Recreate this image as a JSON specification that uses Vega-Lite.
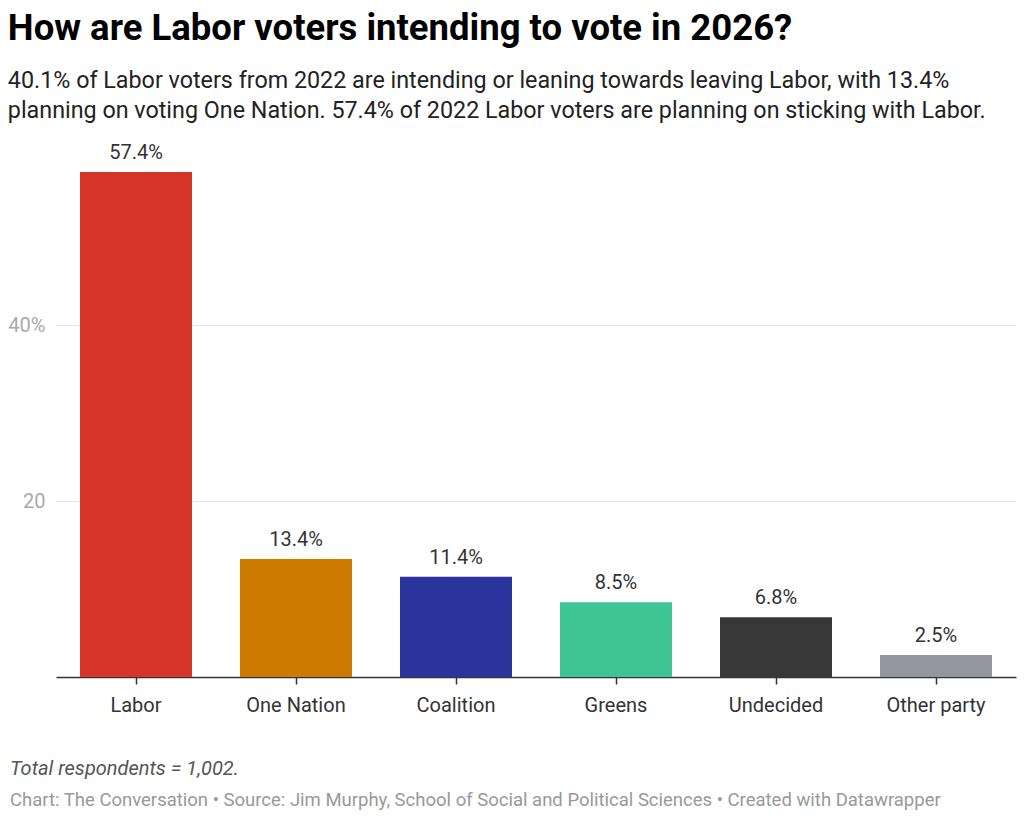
{
  "$schema": "https://vega.github.io/schema/vega-lite/v6.json",
  "description": "How are Labor voters intending to vote in 2026?",
  "padding": {"left": 7, "top": 11, "right": 8, "bottom": 2},
  "background": "white",
  "title": {
    "text": "How are Labor voters intending to vote in 2026?",
    "subtitle": [
      "40.1% of Labor voters from 2022 are intending or leaning towards leaving Labor, with 13.4%",
      "planning on voting One Nation. 57.4% of 2022 Labor voters are planning on sticking with Labor."
    ],
    "anchor": "start",
    "frame": "bounds",
    "font": "Roboto",
    "fontSize": 36.5,
    "fontWeight": "bold",
    "color": "#000000",
    "subtitleFont": "Roboto",
    "subtitleFontSize": 23.3,
    "subtitleColor": "#222222",
    "subtitleLineHeight": 30,
    "subtitlePadding": 22,
    "offset": 21
  },
  "data": {
    "values": [
      {"party": "Labor", "share": 57.4},
      {"party": "One Nation", "share": 13.4},
      {"party": "Coalition", "share": 11.4},
      {"party": "Greens", "share": 8.5},
      {"party": "Undecided", "share": 6.8},
      {"party": "Other party", "share": 2.5}
    ]
  },
  "vconcat": [
    {
      "width": 960,
      "height": 528,
      "title": {
        "text": "Total respondents = 1,002.",
        "subtitle": "Chart: The Conversation • Source: Jim Murphy, School of Social and Political Sciences • Created with Datawrapper",
        "orient": "bottom",
        "anchor": "start",
        "frame": "group",
        "dx": -46,
        "font": "Roboto",
        "fontSize": 20,
        "fontStyle": "italic",
        "fontWeight": "normal",
        "color": "#555555",
        "subtitleFont": "Roboto",
        "subtitleFontSize": 18.5,
        "subtitleColor": "#999999",
        "subtitlePadding": 12,
        "offset": 44
      },
      "encoding": {
        "x": {
          "field": "party",
          "type": "nominal",
          "sort": null,
          "title": null,
          "scale": {"paddingInner": 0.3, "paddingOuter": 0.15},
          "axis": {
            "labelAngle": 0,
            "labelFont": "Roboto",
            "labelFontSize": 20,
            "labelColor": "#333333",
            "labelPadding": 11,
            "domainColor": "#333333",
            "domainWidth": 1.5,
            "tickColor": "#333333",
            "tickSize": 7,
            "tickWidth": 1.5
          }
        },
        "y": {
          "field": "share",
          "type": "quantitative",
          "title": null,
          "scale": {"domain": [0, 60], "nice": false},
          "axis": {
            "values": [20, 40],
            "labelExpr": "datum.value == 40 ? '40%' : datum.label",
            "labelFont": "Roboto",
            "labelFontSize": 20,
            "labelColor": "#aaaaaa",
            "labelPadding": 11,
            "domain": false,
            "ticks": false,
            "gridColor": "#e5e5e5",
            "gridWidth": 1
          }
        }
      },
      "layer": [
        {
          "mark": {"type": "bar"},
          "encoding": {
            "color": {
              "field": "party",
              "type": "nominal",
              "legend": null,
              "scale": {
                "domain": ["Labor", "One Nation", "Coalition", "Greens", "Undecided", "Other party"],
                "range": ["#d8352a", "#cc7a00", "#2b339c", "#3fc495", "#383838", "#9395a1"]
              }
            }
          }
        },
        {
          "mark": {
            "type": "text",
            "baseline": "bottom",
            "dy": -9,
            "font": "Roboto",
            "fontSize": 20,
            "color": "#333333",
            "text": {"expr": "format(datum.share, '.1f') + '%'"}
          },
          "encoding": {}
        }
      ]
    }
  ],
  "config": {
    "view": {"stroke": null}
  }
}
